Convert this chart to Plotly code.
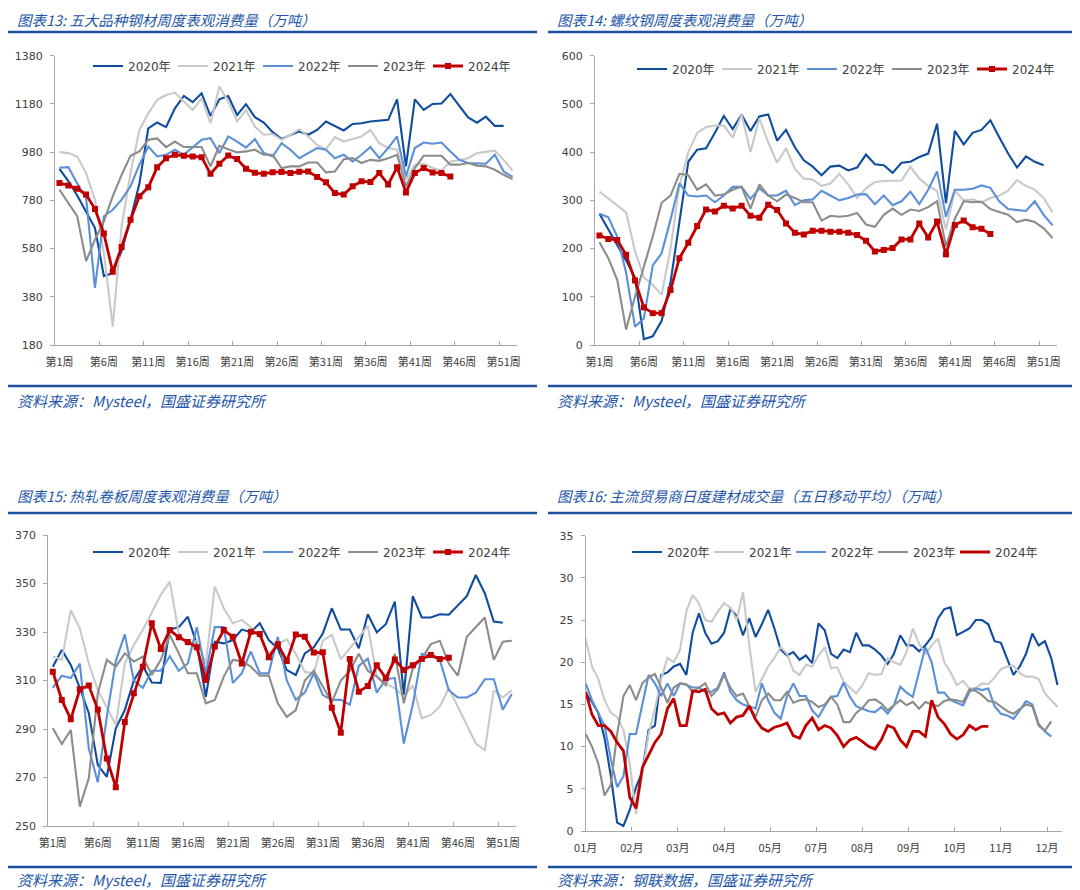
import plotly.graph_objects as go

# page body has an 8px margin: the figure is sized to fill the rest of the 1080x890 window
PAGE_OFF = 8
W, H = 1080 - PAGE_OFF, 890 - PAGE_OFF

# ---------------- data ----------------
years = ["2020年", "2021年", "2022年", "2023年", "2024年"]
colors = ["#0f4c9e", "#c9c9c9", "#5b8fd8", "#8c8c8c", "#c00000"]

week_ticks = [1, 6, 11, 16, 21, 26, 31, 36, 41, 46, 51]
week_tick_labels = ["第1周", "第6周", "第11周", "第16周", "第21周", "第26周",
                    "第31周", "第36周", "第41周", "第46周", "第51周"]

# 图表13 五大品种钢材周度表观消费量 (万吨)
p1_2020 = [911, 860, 800, 735, 665, 466, 478, 570, 700, 850, 1079, 1103, 1084, 1162, 1213, 1187, 1224,
           1130, 1199, 1213, 1134, 1179, 1125, 1103, 1063, 1035, 1052, 1066, 1052, 1072, 1107, 1089,
           1070, 1097, 1100, 1107, 1111, 1114, 1199, 921, 1199, 1155, 1180, 1182, 1221, 1171, 1124,
           1102, 1127, 1089, 1089]
p1_2021 = [980, 976, 962, 893, 783, 562, 256, 673, 893, 1072, 1141, 1197, 1217, 1227, 1190, 1155, 1203,
           1100, 1252, 1190, 1107, 1155, 1086, 1052, 1055, 1031, 1052, 1075, 1045, 1010, 992, 1042,
           1024, 1035, 1045, 1072, 1017, 997, 990, 866, 928, 932, 914, 904, 941, 946, 955, 976, 981,
           986, 948, 904]
p1_2022 = [915, 918, 850, 790, 417, 714, 741, 783, 838, 928, 1003, 962, 969, 990, 969, 1001, 1031, 1038,
           976, 1045, 1024, 999, 1034, 976, 962, 1017, 990, 955, 976, 997, 990, 955, 969, 941, 969,
           1001, 955, 997, 1045, 879, 997, 1020, 1015, 1020, 983, 948, 935, 932, 932, 969, 900, 877]
p1_2023 = [824, 769, 714, 528, 617, 693, 797, 886, 965, 983, 1031, 1037, 1001, 1024, 1001, 1001, 1001,
           921, 1006, 992, 979, 983, 990, 969, 969, 914, 921, 921, 937, 937, 896, 900, 951, 955, 935,
           948, 944, 955, 969, 838, 914, 965, 965, 965, 928, 928, 935, 924, 921, 907, 886, 868]
p1_2024 = [852, 842, 828, 804, 744, 642, 484, 587, 700, 797, 834, 917, 955, 969, 965, 962, 959, 890,
           932, 966, 951, 911, 894, 890, 897, 898, 893, 899, 900, 877, 855, 810, 804, 838, 859, 856,
           893, 846, 917, 813, 893, 914, 896, 893, 879]

# 图表14 螺纹钢周度表观消费量 (万吨)
p2_2020 = [272, 240, 205, 175, 140, 12, 18, 50, 130, 260, 380, 405, 408, 440, 475, 448, 478, 444, 474,
           478, 424, 446, 410, 383, 370, 352, 370, 372, 362, 368, 395, 375, 373, 357, 378, 380, 390,
           397, 459, 294, 444, 416, 440, 446, 466, 431, 397, 368, 391, 380, 373]
p2_2021 = [318, 303, 290, 275, 195, 140, 125, 104, 200, 330, 400, 440, 452, 455, 455, 430, 478, 400,
           470, 420, 378, 408, 365, 345, 343, 330, 335, 355, 333, 305, 325, 338, 340, 340, 341, 370,
           345, 330, 320, 240, 320, 300, 302, 296, 305, 310, 320, 342, 330, 322, 305, 275]
p2_2022 = [272, 265, 225, 150, 38, 55, 165, 190, 260, 335, 310, 308, 310, 296, 310, 328, 328, 303, 325,
           310, 310, 320, 290, 300, 302, 320, 310, 300, 305, 312, 313, 292, 310, 290, 298, 318, 292,
           322, 360, 266, 322, 322, 324, 331, 326, 298, 282, 280, 278, 298, 270, 248]
p2_2023 = [213, 180, 135, 32, 100, 160, 225, 295, 310, 355, 352, 322, 333, 310, 312, 322, 328, 283, 333,
           310, 298, 312, 305, 296, 296, 258, 268, 266, 268, 274, 250, 245, 270, 283, 270, 281, 278,
           286, 298, 205, 262, 298, 296, 297, 282, 276, 270, 255, 260, 255, 242, 222]
p2_2024 = [227, 220, 218, 187, 134, 78, 66, 66, 114, 180, 212, 247, 281, 277, 289, 283, 289, 268, 264,
           291, 280, 252, 233, 229, 237, 237, 235, 235, 233, 228, 216, 194, 197, 201, 219, 219, 252,
           223, 256, 188, 249, 258, 244, 241, 230]

# 图表15 热轧卷板周度表观消费量 (万吨)
p3_2020 = [315.7, 322.6, 316.4, 307, 296.5, 275.2, 270.3, 290.3, 297.8, 310, 316, 309.2, 309, 331, 332,
           336.3, 325, 303.3, 326, 325.3, 326.7, 331, 330, 333.6, 326.7, 323.3, 314.3, 312.3, 321.2,
           323.7, 329.4, 339.8, 331, 331, 323.3, 337.3, 329.9, 333.2, 342.5, 304, 344.8, 336, 336,
           337.3, 337.1, 341, 344.8, 353.5, 346, 334.3, 333.8]
p3_2021 = [320, 318.5, 339, 331.5, 317, 306, 299, 291.6, 317, 324.6, 330.8, 338.4, 345.3, 350.8, 329.4,
           324.6, 326.4, 317, 348.7, 339.8, 333.6, 335, 332, 328, 321, 325, 327, 321, 313.6, 313,
           326.4, 328.8, 318.7, 323.3, 328, 332.5, 311.6, 308.8, 306.8, 303.3, 308, 294.4, 295.8,
           299.2, 306.8, 299.2, 292.3, 284, 281.3, 306, 303, 306]
p3_2022 = [307, 312, 311, 317, 282, 268, 295, 318, 329, 310, 307, 314, 314, 320, 314, 317, 332, 313, 332,
           332, 309, 313, 322, 313, 313, 328, 310, 302, 305, 313, 304, 302, 302, 300, 316, 319, 305,
           310.5, 311, 284, 300, 321, 320, 318.5, 306, 303, 303, 305, 310.5, 310.5, 298, 304.4]
p3_2023 = [290.3, 283.8, 289.6, 258, 269.7, 304.7, 318.5, 315.7, 321.2, 317.8, 319.8, 312.3, 318.5,
           328.8, 321.2, 313, 313, 300.6, 302, 311.6, 318.5, 318, 315.7, 312, 312, 300.6, 295, 297.8,
           310, 314, 307.5, 301, 310, 314, 321, 314, 311.6, 308, 321, 300.6, 315, 319, 325, 326.4,
           317, 312, 328, 332, 336, 318.5, 326, 326.4]
p3_2024 = [313.6, 302, 294, 306.4, 307.9, 298, 277.8, 266, 292.9, 304.7, 315.7, 333.6, 323, 330.8,
           327.8, 325.9, 323.7, 310.2, 324, 330.8, 328, 317, 330.1, 329.2, 319.6, 325, 318, 329, 328,
           321.5, 321.6, 298.8, 288.5, 318.9, 305.4, 307.7, 316.3, 311, 318.7, 314.3, 316.3, 318.9,
           320.5, 318.9, 319.4]

# 图表16 主流贸易商日度建材成交量 (五日移动平均, 万吨), sampled every 3 trading days
month_labels = ["01月", "02月", "03月", "04月", "05月", "07月", "08月", "09月", "10月", "11月", "12月"]
days_per_label = 22
last_day = 227
p4_days = list(range(0, 226, 3))
p4_2020 = [16.3, 15.3, 14.0, 11.0, 6.5, 1.0, 0.6, 2.5, 5.2, 7.0, 12.0, 12.5, 18.5, 18.8, 19.5, 19.8,
           18.5, 23.5, 25.8, 23.5, 22.2, 22.5, 23.5, 26.3, 25.5, 23.2, 25.2, 23.0, 24.5, 26.2, 24.0,
           21.5, 20.8, 21.2, 20.3, 20.8, 19.9, 24.6,
           23.8, 21.0, 20.5, 21.5, 21.2, 23.5, 22.0, 22.0, 21.5, 20.8, 19.8, 21.0, 23.2, 22.0, 22.0,
           21.3, 22.0, 23.0, 25.2, 26.3, 26.5, 23.2, 23.6, 24.0, 25.0, 25.0, 24.5, 22.5, 22.3, 20.5,
           18.5, 19.5, 21.0, 23.4, 22.0, 22.5, 20.5, 17.3]
p4_2021 = [22.8, 19.5, 18.0, 15.5, 14.0, 13.5, 12.0, 8.0, 2.0, 6.5, 11.5, 14.5, 18.0, 20.5, 20.0, 21.5,
           26.0, 28.0, 27.0, 25.0, 24.8, 26.0, 27.0, 26.5, 25.0, 28.3, 22.0, 16.5, 18.0, 19.5, 20.5,
           21.8, 21.0, 19.0, 18.5, 19.7, 19.5, 20.8,
           21.8, 19.3, 19.4, 17.7, 17.0, 16.3, 17.3, 18.7, 18.5, 18.6, 20.5, 20.0, 19.7, 21.2, 24.0,
           22.2, 21.0, 22.0, 22.8, 20.0, 18.8, 17.3, 17.8, 16.9, 16.9, 17.5, 17.4, 18.2, 19.2, 19.5,
           19.6, 18.7, 18.3, 18.3, 18.0, 16.3, 15.5, 14.7]
p4_2022 = [17.5, 15.5, 14.0, 12.5, 8.5, 5.2, 6.5, 11.5, 11.5, 15.0, 18.5, 17.5, 16.0, 17.5, 16.0, 17.5,
           17.3, 17.0, 17.0, 16.5, 16.5, 17.0, 18.8, 16.5, 15.5, 15.0, 14.8, 14.5, 17.5, 15.5, 14.0,
           13.3, 16.0, 17.5, 16.0, 16.0, 14.3, 13.5,
           14.8, 15.9, 16.0, 17.6, 15.9, 14.8, 14.5, 14.2, 14.1, 14.7, 13.9, 14.9, 17.1, 16.4, 15.9,
           18.8, 21.8, 20.0, 16.4, 16.4, 15.5, 15.2, 14.9, 16.5, 16.9, 16.7, 16.9, 14.8, 13.9, 13.7,
           13.3, 14.3, 15.4, 15.0, 12.7, 11.8, 11.2]
p4_2023 = [11.5, 10.0, 8.0, 4.2, 5.5, 11.5, 16.0, 17.3, 15.5, 17.5, 18.2, 18.6, 17.0, 15.2, 17.0, 17.5,
           17.4, 16.5, 17.0, 17.5, 16.0, 16.8, 18.5, 17.0, 16.0, 16.3, 14.8, 13.5, 15.5, 16.3, 15.5,
           15.5, 16.5, 15.2, 15.5, 15.6, 15.3, 14.7,
           15.0, 15.9, 15.0, 12.9, 12.9, 14.0, 14.6, 15.5, 15.6, 15.1, 14.3, 14.9, 15.5, 14.9, 15.3,
           14.5, 15.3, 15.0, 14.8, 15.4, 15.6, 15.5, 15.3, 16.8, 16.6, 16.1, 15.4, 15.3, 14.7, 14.2,
           13.9, 14.5, 15.0, 14.8, 12.5, 11.9, 13.0]
p4_2024 = [16.5, 13.8, 12.5, 12.5, 11.8, 10.5, 9.5, 4.0, 2.7, 7.5, 9.0, 10.5, 11.5, 14.5, 15.7, 12.5,
           12.5, 16.6, 16.5, 16.8, 14.5, 13.8, 14.0, 12.8, 13.5, 13.7, 14.8, 13.2, 12.2, 11.8, 12.3,
           12.5, 12.8, 11.3, 11.0, 12.5, 13.4, 12.0,
           12.5, 12.2, 11.3, 10.0, 10.8, 11.1, 10.6, 10.0, 9.7, 10.8, 12.5, 12.2, 10.8, 10.0, 11.8,
           11.8, 11.2, 15.5, 13.5, 12.7, 11.5, 10.9, 11.4, 12.5, 12.0, 12.4, 12.4]

titles = ["图表13: 五大品种钢材周度表观消费量（万吨）",
          "图表14: 螺纹钢周度表观消费量（万吨）",
          "图表15: 热轧卷板周度表观消费量（万吨）",
          "图表16: 主流贸易商日度建材成交量（五日移动平均）（万吨）"]
sources = ["资料来源：Mysteel，国盛证券研究所",
           "资料来源：Mysteel，国盛证券研究所",
           "资料来源：Mysteel，国盛证券研究所",
           "资料来源：钢联数据，国盛证券研究所"]

# ---------------- figure ----------------
fig = go.Figure()
AX = "#a6a6a6"
TXT = "#404040"
BLUE_T = "#2356a8"
BLUE_L = "#1c4f9f"
num_font = dict(family="DejaVu Sans, Noto Sans CJK SC", size=11, color=TXT)
cjk_font = dict(family="Noto Sans CJK SC", size=11, color=TXT)


def px_x(v):
    # window pixel -> paper fraction
    return (v - PAGE_OFF) / W


def px_y(v):
    return 1 - (v - PAGE_OFF) / H


def add_series(series, xs_fn, xa, ya, leg, markers):
    for name, vals, col in zip(years, series, colors):
        is24 = name == "2024年"
        fig.add_trace(go.Scatter(
            x=xs_fn(len(vals)), y=vals, name=name,
            mode="lines+markers" if (is24 and markers) else "lines",
            line=dict(color=col, width=2.8 if is24 else 2.1),
            marker=dict(symbol="square", size=6, color=col),
            xaxis=xa, yaxis=ya, legend=leg, hoverinfo="skip"))


def week_x(n):
    return list(range(1, n + 1))


def day_x(n):
    return p4_days[:n]


add_series([p1_2020, p1_2021, p1_2022, p1_2023, p1_2024], week_x, "x", "y", "legend", True)
add_series([p2_2020, p2_2021, p2_2022, p2_2023, p2_2024], week_x, "x2", "y2", "legend2", True)
add_series([p3_2020, p3_2021, p3_2022, p3_2023, p3_2024], week_x, "x3", "y3", "legend3", True)
add_series([p4_2020, p4_2021, p4_2022, p4_2023, p4_2024], day_x, "x4", "y4", "legend4", False)


def week_axis(x0, x1, anchor):
    return dict(domain=[px_x(x0), px_x(x1)], anchor=anchor, range=[0.5, 52.5],
                tickmode="array", tickvals=week_ticks, ticktext=week_tick_labels, ticks="",
                showline=True, linecolor=AX, linewidth=1, showgrid=False, zeroline=False,
                tickfont=cjk_font, ticklabelstandoff=7,
                minor=dict(tickmode="array", tickvals=[w - 0.5 for w in week_ticks[1:]],
                           ticks="inside", ticklen=4, tickcolor=AX, tickwidth=1, showgrid=False))


def y_axis(y0, y1, anchor, rng, dt):
    return dict(domain=[px_y(y1), px_y(y0)], anchor=anchor, range=rng, tick0=rng[0], dtick=dt,
                ticks="outside", ticklen=4, tickcolor=AX, showline=True, linecolor=AX,
                linewidth=1, showgrid=False, zeroline=False, tickfont=num_font,
                ticklabelstandoff=5)


def legend_at(xpx, ypx, ew):
    return dict(orientation="h", x=px_x(xpx), y=px_y(ypx), xanchor="left", yanchor="middle",
                font=dict(family="DejaVu Sans, Noto Sans CJK SC", size=12, color=TXT),
                bgcolor="rgba(0,0,0,0)", entrywidth=ew, entrywidthmode="pixels",
                itemwidth=30, traceorder="normal", itemclick=False, itemdoubleclick=False)


p4_ticks = [i * days_per_label for i in range(len(month_labels))]

fig.update_layout(
    width=W, height=H, margin=dict(l=0, r=0, t=0, b=0, autoexpand=False),
    paper_bgcolor="white", plot_bgcolor="white",
    xaxis=week_axis(55, 517, "y"),
    yaxis=y_axis(55.7, 345, "x", [180, 1380], 200),
    xaxis2=week_axis(595, 1057, "y2"),
    yaxis2=y_axis(55.7, 345, "x2", [0, 600], 100),
    xaxis3=week_axis(48.3, 516.3, "y3"),
    yaxis3=y_axis(535, 826, "x3", [250, 370], 20),
    xaxis4=dict(domain=[px_x(585.7), px_x(1061.7)], anchor="y4", range=[0, last_day],
                tickmode="array", tickvals=p4_ticks, ticktext=month_labels,
                ticks="inside", ticklen=4, tickcolor=AX, showline=True, linecolor=AX,
                linewidth=1, showgrid=False, zeroline=False, tickfont=cjk_font,
                ticklabelstandoff=7),
    yaxis4=y_axis(535.7, 831, "x4", [0, 35], 5),
    legend=legend_at(88, 66, 40),
    legend2=legend_at(632, 69, 40),
    legend3=legend_at(88, 552, 40),
    legend4=legend_at(627, 552, 37),
    showlegend=True,
)

title_font = dict(family="Noto Sans CJK SC", size=14.5, color=BLUE_T, style="italic")
src_font = dict(family="Noto Sans CJK SC", size=15, color=BLUE_T, style="italic")
title_pos = [(16, 19), (556, 19), (16, 495), (556, 495)]
src_pos = [(16, 400), (556, 400), (16, 879), (556, 879)]
for t, (tx, ty) in zip(titles, title_pos):
    fig.add_annotation(text=t, x=px_x(tx), y=px_y(ty), xref="paper", yref="paper",
                       xanchor="left", yanchor="middle", showarrow=False, font=title_font,
                       borderpad=0)
for s, (sx, sy) in zip(sources, src_pos):
    fig.add_annotation(text=s, x=px_x(sx), y=px_y(sy), xref="paper", yref="paper",
                       xanchor="left", yanchor="middle", showarrow=False, font=src_font,
                       borderpad=0)

rule_y = [32, 386, 513, 867]
for ry in rule_y:
    for (xa, xb) in [(3, 537), (548, 1080)]:
        fig.add_shape(type="line", xref="paper", yref="paper", x0=px_x(xa), x1=px_x(xb),
                      y0=px_y(ry), y1=px_y(ry), line=dict(color=BLUE_L, width=2.5))

fig.write_html("out.html")
